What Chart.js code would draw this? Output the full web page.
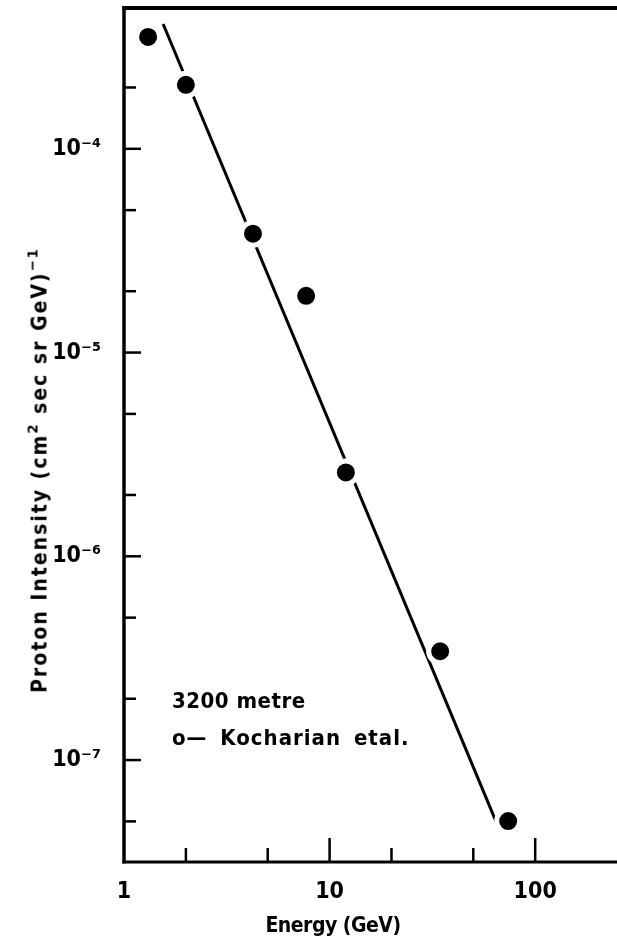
<!DOCTYPE html>
<html><head><meta charset="utf-8">
<script src="https://cdn.jsdelivr.net/npm/chart.js@4.4.1/dist/chart.umd.min.js"></script>
<style>
html,body{margin:0;padding:0;background:#fff;}
#wrap{position:relative;width:617px;height:940px;overflow:hidden;background:#fff;}
canvas{position:absolute;left:0;top:0;}
.t{position:absolute;font-family:'DejaVu Sans Condensed','DejaVu Sans',sans-serif;font-weight:bold;color:#000;white-space:nowrap;line-height:1;}
.t sup{font-size:70%;line-height:0;position:relative;top:-0.1em;}
#ytitle{left:40px;top:470px;font-size:21px;letter-spacing:2px;transform:translate(-50%,-50%) rotate(-90deg);}
#xtitle{left:333px;top:925px;font-size:21px;letter-spacing:-0.5px;transform:translate(-50%,-50%);}
#leg1{left:172px;top:690px;font-size:22px;letter-spacing:0.5px;}
#leg2{left:172px;top:727px;font-size:22px;letter-spacing:1px;word-spacing:5px;}
</style></head><body>
<div id="wrap">
<canvas id="c" width="617" height="940"></canvas>
<div class="t" id="ytitle">Proton Intensity (cm<sup>2</sup> sec sr GeV)<sup>−1</sup></div>
<div class="t" id="xtitle">Energy (GeV)</div>
<div class="t" id="leg1">3200 metre</div>
<div class="t" id="leg2">o— Kocharian etal.</div>
</div>
<script>
// Measured data points (Energy in GeV, intensity in (cm^2 sec sr GeV)^-1)
const energyGeV = [1.31, 2.0, 4.24, 7.69, 12.0, 34.5, 73.9];
const protonIntensity = [3.54e-4, 2.06e-4, 3.83e-5, 1.90e-5, 2.58e-6, 3.42e-7, 5.02e-8];
// Fitted straight line (end points)
const fitEnergy = [1.55, 64.6];
const fitIntensity = [4.10e-4, 4.97e-8];
// Axis tick marks and labels
const xTickValues = [1, 2, 5, 10, 20, 50, 100];
const xLabelValues = [1, 10, 100];
const xLabelTexts = ['1', '10', '100'];
const yTickValues = [5e-8, 1e-7, 2e-7, 5e-7, 1e-6, 2e-6, 5e-6, 1e-5, 2e-5, 5e-5, 1e-4, 2e-4];
const yLabelValues = [1e-7, 1e-6, 1e-5, 1e-4];
const yLabelTexts = ['10⁻⁷', '10⁻⁶', '10⁻⁵', '10⁻⁴'];
const xRange = [1, 250];
const yRange = [3.16e-8, 4.91e-4];

function findLabel(v, vals, texts) {
  for (let i = 0; i < vals.length; i++) {
    if (Math.abs(Math.log10(v) - Math.log10(vals[i])) < 1e-6) return texts[i];
  }
  return '';
}
function isMajor(v, vals) { return findLabel(v, vals, vals.map(String)) !== ''; }

const framePlugin = {
  id: 'frameTicks',
  afterDraw(chart) {
    const ctx = chart.ctx, a = chart.chartArea;
    const xs = chart.scales.x, ys = chart.scales.y;
    ctx.save();
    ctx.strokeStyle = '#000';
    ctx.lineCap = 'butt';
    ctx.lineWidth = 3.5;
    ctx.beginPath();
    ctx.moveTo(a.left, a.top - 2); ctx.lineTo(a.left, a.bottom + 1.5);
    ctx.stroke();
    ctx.lineWidth = 3;
    ctx.beginPath();
    ctx.moveTo(a.left - 1.5, a.bottom); ctx.lineTo(a.right, a.bottom);
    ctx.stroke();
    ctx.lineWidth = 4;
    ctx.beginPath();
    ctx.moveTo(a.left - 1.5, a.top); ctx.lineTo(a.right, a.top);
    ctx.stroke();
    ctx.lineWidth = 2.5;
    ys.ticks.forEach(t => {
      const y = ys.getPixelForValue(t.value);
      const len = isMajor(t.value, yLabelValues) ? 17 : 12;
      ctx.beginPath(); ctx.moveTo(a.left, y); ctx.lineTo(a.left + len, y); ctx.stroke();
    });
    xs.ticks.forEach(t => {
      if (t.value === xRange[0]) return;
      const x = xs.getPixelForValue(t.value);
      const len = isMajor(t.value, xLabelValues) ? 24 : 14;
      ctx.beginPath(); ctx.moveTo(x, a.bottom); ctx.lineTo(x, a.bottom - len); ctx.stroke();
    });
    ctx.restore();
  }
};

const tickFont = {family: "'DejaVu Sans Condensed','DejaVu Sans',sans-serif", size: 23, weight: 'bold'};

new Chart(document.getElementById('c'), {
  type: 'scatter',
  data: {
    datasets: [
      {
        label: '3200 metre',
        data: energyGeV.map((x, i) => ({x: x, y: protonIntensity[i]})),
        showLine: false,
        pointRadius: 11.5,
        pointBackgroundColor: '#000',
        pointBorderColor: '#fff',
        pointBorderWidth: 5,
        order: 0
      },
      {
        label: 'fit',
        data: fitEnergy.map((x, i) => ({x: x, y: fitIntensity[i]})),
        showLine: true,
        borderColor: '#000',
        borderWidth: 3,
        pointRadius: 0,
        order: 1
      }
    ]
  },
  options: {
    responsive: false,
    animation: false,
    devicePixelRatio: 1,
    layout: {autoPadding: false, padding: {left: 0, right: 0, top: 8, bottom: 0}},
    plugins: {legend: {display: false}, tooltip: {enabled: false}},
    scales: {
      x: {
        type: 'logarithmic', min: xRange[0], max: xRange[1], bounds: 'data',
        grid: {display: false}, border: {display: false},
        afterFit: s => { s.height = 78; s.paddingLeft = 0; s.paddingRight = 0; },
        afterBuildTicks: s => { s.ticks = xTickValues.map(v => ({value: v})); },
        ticks: {autoSkip: false, maxRotation: 0, padding: 8, color: '#000', font: tickFont,
          callback: v => findLabel(v, xLabelValues, xLabelTexts)}
      },
      y: {
        type: 'logarithmic', min: yRange[0], max: yRange[1], bounds: 'data',
        grid: {display: false}, border: {display: false},
        afterFit: s => { s.width = 124; s.paddingTop = 0; s.paddingBottom = 0; },
        afterBuildTicks: s => { s.ticks = yTickValues.map(v => ({value: v})); },
        ticks: {autoSkip: false, padding: 15, color: '#000', font: tickFont,
          callback: v => findLabel(v, yLabelValues, yLabelTexts)}
      }
    }
  },
  plugins: [framePlugin]
});
</script>
</body></html>
